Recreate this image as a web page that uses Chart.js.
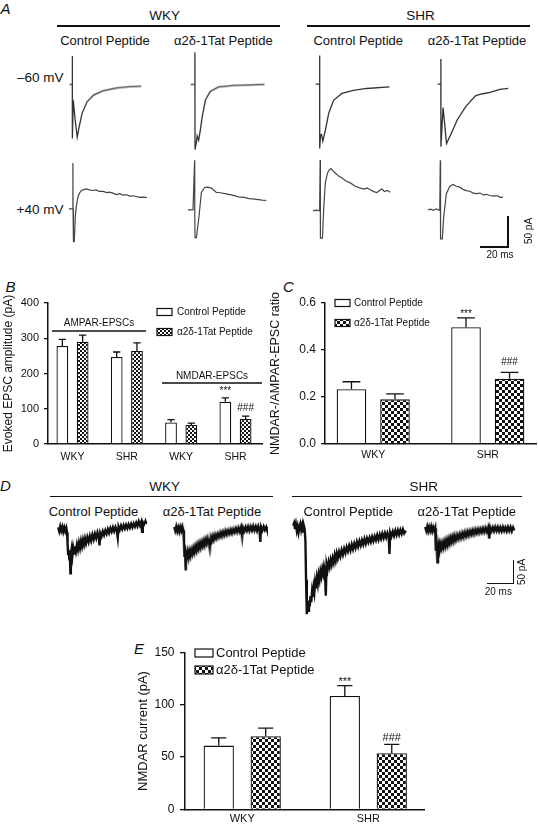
<!DOCTYPE html>
<html>
<head>
<meta charset="utf-8">
<title>NMDAR EPSC figure</title>
<script src="https://cdn.jsdelivr.net/npm/chart.js@4.4.1/dist/chart.umd.min.js"></script>
<style>
  body { margin: 0; background: #fff; }
  #fig { position: relative; width: 538px; height: 826px; overflow: hidden;
         font-family: "Liberation Sans", Arial, Helvetica, sans-serif; color: #111; }
  .t { position: absolute; white-space: nowrap; line-height: 1; }
  .box { position: absolute; }
  .ln { position: absolute; background: #111; }
</style>
</head>
<body>
<div id="fig"></div>
<script>
const FONT = '"Liberation Sans", Arial, Helvetica, sans-serif';

// ---------- data ----------
const strains = ['WKY', 'SHR'];
const peptides = ['Control Peptide', 'α2δ-1Tat Peptide'];

// B: evoked EPSC amplitude (pA) – AMPAR WKY, AMPAR SHR, NMDAR WKY, NMDAR SHR
const bCats = ['WKY', 'SHR', 'WKY', 'SHR'];
const bCtrl = [278, 247, 61, 120];
const bCtrlErr = [19, 14, 8, 11];
const bTat = [290, 264, 54, 71];
const bTatErr = [19, 23, 5, 8];
const bCtrlSig = ['', '', '', '***'];
const bTatSig = ['', '', '', '###'];
const bTicks = [0, 100, 200, 300, 400];

// C: NMDAR/AMPAR ratio
const cCtrl = [0.233, 0.497];
const cCtrlErr = [0.032, 0.040];
const cTat = [0.19, 0.278];
const cTatErr = [0.023, 0.027];
const cCtrlSig = ['', '***'];
const cTatSig = ['', '###'];
const cTicks = [0, 0.2, 0.4, 0.6];

// E: NMDAR current (pA)
const eCtrl = [61, 108.5];
const eCtrlErr = [7.5, 10];
const eTat = [70, 53.8];
const eTatErr = [7.7, 8.3];
const eCtrlSig = ['', '***'];
const eTatSig = ['', '###'];
const eTicks = [0, 50, 100, 150];

// A: evoked EPSC traces [ms, pA]
const aWkyCtrlNeg = [[0,0],[2,0],[2,46],[2.1,-87],[2.7,-25],[4.2,-58],[5.7,-85],[7,-70],[9.4,-46],[13.1,-28],[18,-17],[25.2,-10],[35.3,-5.5],[45,-3.5],[53.9,-2.7]];
const aWkyTatNeg = [[0,0],[3.2,0],[3.2,52],[3.3,-105],[4.4,-92],[4.9,-83],[6,-90],[7.2,-75],[8.7,-52],[11.1,-25],[14.8,-11],[21,-4],[32.1,-1.5],[55.6,0]];
const aShrCtrlNeg = [[0,0],[3,0],[3,47],[3.1,-105],[3.7,-83],[4.4,-82],[5.4,-93],[7.4,-74],[9.9,-47],[13.6,-26],[19.8,-15],[28.4,-10],[38.3,-7],[55.6,-4.4]];
const aShrTatNeg = [[0,0],[2.4,0],[2.4,41],[2.5,-102],[4.1,-38],[6.7,-97],[9.9,-82],[14.8,-58],[21,-37],[28.4,-19],[33,-16],[39.5,-13.4],[46.9,-8.5],[53.1,-7]];
const aWkyCtrlPos = [[0,0],[2.5,0],[2.9,74],[3,0],[3.3,-53],[3.9,-53],[4.7,-12],[5.5,5],[6.7,20],[8,26],[9.2,29.5],[11,31],[12.9,32],[15,30.5],[17.8,29.5],[20,30.5],[22.5,28],[25.2,28],[28,26],[30,27],[32.6,25.3],[35,23],[37.5,24.5],[40,22],[42.5,22.6],[45,20.5],[47.5,21],[49.9,19.8],[52,18.5],[55,18.8],[57.8,18.2]];
const aWkyTatPos = [[0,0],[3.7,0],[4.9,80],[5,0],[5.2,-45],[6.2,-45],[8.1,-12],[9.9,28],[12.3,36],[14.5,36.5],[17.3,35],[19,32],[21,28],[24,27.5],[28.4,25.6],[32,24],[35,22.5],[38.3,20.3],[42,20],[45,18],[48.1,17.6],[52,16.5],[55,15.5],[58,15]];
const aShrCtrlPos = [[0,0],[2.5,1],[4.9,0],[5.3,82],[5.4,0],[5.6,-44],[7,-44],[7.9,2],[9.1,45],[10.8,61],[12,66],[13.3,68],[15,64],[16.5,61],[19,56],[21.5,53],[24.5,48],[27.6,45],[31,40],[35,36.6],[38,35],[40,37],[42.4,34],[45,31],[47.4,29.5],[49.5,33],[51.1,35],[53,31],[55,33],[57.3,30]];
const aShrTatPos = [[0,0],[2,1],[4,-1],[6,1.5],[8.7,-1],[9.1,80],[9.2,0],[9.4,-47],[10.6,-47],[11.6,-12],[13.6,26],[16.1,37.6],[18.5,40.8],[21,38],[23.5,36.5],[26,33],[28.4,31],[31,30],[33.5,27],[35.9,26],[38.5,27],[41,24],[43.5,25],[45.7,23],[48.5,22],[51,23],[53.5,20],[55.6,20.3]];

// D: NMDAR currents [ms, pA]
const dWkyCtrl = [[0,4],[0.8,-5],[1.6,6],[2.4,-4],[3.2,5],[4,-6],[4.8,4],[5.6,-5],[6.4,3],[7,-8],[7.4,-35],[7.8,-58],[8.3,-48],[8.8,-70],[9.2,-52],[9.6,-103],[10,-58],[10.6,-46],[11.2,-62],[11.8,-44],[12.5,-57],[13.2,-40],[14,-52],[14.8,-36],[15.6,-48],[16.4,-32],[17.2,-44],[18,-28],[18.8,-40],[19.6,-25],[20.4,-36],[21.2,-22],[22,-33],[23,-19],[24,-30],[25,-16],[26,-27],[27,-13],[28,-24],[29,-11],[30,-21],[31,-8],[32,-19],[32.6,-38],[33.2,-9],[34.2,-17],[35.2,-5],[36.2,-14],[37.2,-3],[38.2,-11],[39.2,0],[40.2,-9],[41.2,2],[42.2,-6],[43.2,4],[44.2,-5],[45.2,5],[46.2,-3],[47,-20],[47.6,6],[48.6,-2],[49.6,8],[50.6,0],[51.6,9],[52.6,1],[53.6,10],[54.6,2],[55.6,11],[56.6,3],[57.6,12],[58.6,4],[59.6,13],[60.6,6],[61.6,15],[62.6,7],[63.6,18],[64.6,9],[65.6,17],[66.2,-6],[66.8,16],[67.8,11],[68.8,18],[69.2,12]];
const dWkyTat = [[0,5],[0.8,-4],[1.6,6],[2.4,-5],[3.2,4],[4,-6],[4.8,5],[5.6,-4],[6.4,6],[7.2,-3],[7.6,-30],[8,-62],[8.5,-54],[9,-96],[9.4,-60],[10,-70],[10.6,-55],[11.2,-66],[11.9,-52],[12.6,-62],[13.4,-48],[14.2,-58],[15,-44],[15.8,-54],[16.6,-40],[17.4,-50],[18.2,-36],[19,-46],[19.8,-33],[20.6,-43],[21.4,-30],[22.2,-39],[23,-27],[23.8,-37],[24.6,-24],[25.4,-33],[26.2,-21],[27,-30],[27.8,-45],[28.6,-19],[29.4,-27],[30.2,-16],[31,-25],[32,-13],[33,-22],[34,-11],[35,-19],[36,-8],[37,-17],[38,-6],[39,-15],[40,-4],[41,-13],[42,-3],[43,-11],[44,-1],[45,-10],[46,0],[47,-8],[48,2],[49,-7],[50,3],[51,-6],[52,4],[53,-18],[53.6,3],[54.6,-5],[55.6,5],[56.6,-4],[57.6,6],[58.6,-4],[59.6,6],[60.6,-3],[61.6,7],[62.6,-3],[63.6,6],[64.6,-4],[65.6,7],[66.6,-3],[67.2,-30],[67.8,5],[68.8,-3],[69.8,6],[70.8,-2],[71.8,5],[72.3,0]];
const dShrCtrl = [[0,6],[0.7,12],[1.4,-2],[2.1,9],[2.8,-6],[3.5,4],[4.2,-10],[4.9,3],[5.6,10],[6.3,-4],[7,6],[7.7,-8],[8.4,5],[9,-2],[9.6,-30],[10.1,-120],[10.7,-200],[11.2,-170],[11.8,-192],[12.4,-168],[13,-182],[13.6,-158],[14.2,-172],[14.8,-148],[15.4,-160],[16,-138],[16.6,-150],[17.2,-126],[17.9,-140],[18.6,-116],[19.3,-130],[20,-108],[20.7,-120],[21.4,-101],[22.1,-112],[22.8,-95],[23.5,-106],[24.2,-89],[24.9,-100],[25.6,-157],[26.2,-84],[27,-96],[27.8,-79],[28.6,-90],[29.4,-74],[30.2,-85],[31,-70],[31.8,-80],[32.6,-63],[33.4,-75],[34.2,-59],[35,-70],[36,-55],[37,-66],[38,-51],[39,-62],[40,-48],[41,-58],[42,-44],[43,-54],[44,-41],[45,-52],[46,-38],[47,-49],[48,-36],[49,-46],[50,-32],[51,-43],[52,-30],[53,-40],[54,-28],[55,-38],[56,-25],[57,-36],[58,-24],[59,-33],[60,-22],[61,-32],[62,-20],[63,-30],[64,-19],[65,-28],[66,-16],[67,-27],[68,-15],[69,-25],[70,-13],[71,-23],[72,-12],[73,-22],[74,-11],[75,-20],[75.6,-60],[76.2,-10],[77.2,-19],[78.2,-8],[79.2,-18],[80.2,-6],[81.2,-16],[82.2,-5],[83.2,-15],[84.2,-4],[85.2,-13],[86.2,-3],[87.2,-12],[88.4,-6]];
const dShrTat = [[0,5],[0.8,-4],[1.6,6],[2.4,-5],[3.2,5],[4,-4],[4.8,6],[5.6,-5],[6.4,4],[7.2,-4],[7.8,2],[8.1,-30],[8.5,-50],[9,-38],[9.5,-77],[10,-46],[10.6,-36],[11.2,-48],[11.8,-34],[12.6,-45],[13.4,-32],[14.2,-43],[15,-29],[15.8,-40],[16.6,-26],[17.4,-37],[18.2,-23],[19,-33],[19.8,-20],[20.6,-30],[21.4,-18],[22.2,-28],[23,-15],[24,-26],[25,-13],[26,-23],[27,-11],[28,-21],[29,-9],[30,-19],[31,-7],[32,-17],[33,-5],[34,-15],[35,-4],[36,-13],[37,-2],[38,-12],[39,-1],[40,-10],[41,0],[42,-9],[43,1],[44,-8],[45,2],[46,-7],[47,3],[48,-6],[49,3],[50,-22],[50.6,4],[51.6,-5],[52.6,4],[53.6,-5],[54.6,5],[55.6,-4],[56.6,5],[57.6,-5],[58.6,4],[59.6,-5],[60.6,5],[61.6,-4],[62.6,4],[63.6,-5],[64.6,5],[65.6,-4],[66.6,5],[67.6,-5],[68.6,4],[69.6,-3]];

// ---------- helpers ----------
Chart.defaults.font.family = FONT;
Chart.defaults.color = '#111';
const fig = document.getElementById('fig');

function txt(s, x, y, size, anchor, extra) {
  const d = document.createElement('div');
  d.className = 't';
  d.textContent = s;
  d.style.fontSize = size + 'px';
  d.style.left = x + 'px';
  d.style.top = y + 'px';
  const tx = anchor === 'l' ? '0' : anchor === 'r' ? '-100%' : '-50%';
  d.style.transform = 'translate(' + tx + ',-50%)' + (extra || '');
  fig.appendChild(d);
  return d;
}
function line(x, y, w, h) {
  const d = document.createElement('div');
  d.className = 'ln';
  d.style.left = x + 'px'; d.style.top = y + 'px';
  d.style.width = w + 'px'; d.style.height = h + 'px';
  fig.appendChild(d);
}
function box(left, top, w, h) {
  const d = document.createElement('div');
  d.className = 'box';
  d.style.left = left + 'px'; d.style.top = top + 'px';
  d.style.width = w + 'px'; d.style.height = h + 'px';
  const cv = document.createElement('canvas');
  d.appendChild(cv);
  fig.appendChild(d);
  return cv;
}
function checker(cell) {
  const c = document.createElement('canvas');
  c.width = c.height = cell * 2;
  const g = c.getContext('2d');
  g.fillStyle = '#fff'; g.fillRect(0, 0, cell * 2, cell * 2);
  g.fillStyle = '#111'; g.fillRect(0, 0, cell, cell); g.fillRect(cell, cell, cell, cell);
  return g.createPattern(c, 'repeat');
}

// one trace = one small chart, ms on x and pA on y
function trace(pts, left, base, xmax, ymin, ymax, kx, ky, lw, col) {
  const cv = box(left, base - ymax * ky, xmax * kx, (ymax - ymin) * ky);
  new Chart(cv, {
    type: 'scatter',
    data: { datasets: [{ data: pts.map(p => ({ x: p[0], y: p[1] })), showLine: true,
      borderColor: col, borderWidth: lw, pointRadius: 0, tension: 0, clip: false }] },
    options: {
      responsive: true, maintainAspectRatio: false, animation: false, events: [],
      layout: { padding: 0 },
      plugins: { legend: { display: false }, tooltip: { enabled: false } },
      scales: {
        x: { type: 'linear', display: false, min: 0, max: xmax },
        y: { type: 'linear', display: false, min: ymin, max: ymax }
      }
    }
  });
}

// error bars, significance marks, legend, group brackets
const deco = {
  id: 'deco',
  afterDatasetsDraw(chart, args, o) {
    const { ctx, scales: { x, y } } = chart;
    ctx.save();
    ctx.strokeStyle = '#111';
    ctx.lineWidth = 1.3;
    chart.data.datasets.forEach((ds, di) => {
      chart.getDatasetMeta(di).data.forEach((bar, i) => {
        const top = y.getPixelForValue(ds.data[i].y + ds.err[i]);
        const half = bar.width * o.cap / 2;
        ctx.beginPath();
        ctx.moveTo(bar.x, bar.y); ctx.lineTo(bar.x, top);
        ctx.moveTo(bar.x - half, top); ctx.lineTo(bar.x + half, top);
        ctx.stroke();
        if (ds.sig[i]) {
          ctx.fillStyle = '#111';
          ctx.font = o.sigSize + 'px ' + FONT;
          ctx.textAlign = 'center'; ctx.textBaseline = 'alphabetic';
          ctx.fillText(ds.sig[i], bar.x, top - o.sigGap[di]);
        }
      });
    });
    const L = o.legend;
    chart.data.datasets.forEach((ds, di) => {
      const cy = L.y + di * L.dy;
      ctx.fillStyle = ds.backgroundColor;
      ctx.fillRect(L.x, cy - L.h / 2, L.w, L.h);
      ctx.lineWidth = 1.2;
      ctx.strokeRect(L.x, cy - L.h / 2, L.w, L.h);
      ctx.fillStyle = '#111';
      ctx.font = L.size + 'px ' + FONT;
      ctx.textAlign = 'left'; ctx.textBaseline = 'middle';
      ctx.fillText(ds.label, L.tx, cy + 0.5);
    });
    (o.groups || []).forEach(g => {
      const py = y.getPixelForValue(g.at);
      const x1 = x.getPixelForValue(g.from), x2 = x.getPixelForValue(g.to);
      ctx.lineWidth = 1.5;
      ctx.beginPath(); ctx.moveTo(x1, py); ctx.lineTo(x2, py); ctx.stroke();
      ctx.fillStyle = '#111';
      ctx.font = g.size + 'px ' + FONT;
      ctx.textAlign = 'center'; ctx.textBaseline = 'alphabetic';
      ctx.fillText(g.text, (x1 + x2) / 2, py - 4.5);
    });
    ctx.restore();
  }
};

function barPanel(p) {
  const cv = box(p.left, p.top, p.w, p.h);
  const pat = checker(p.cell);
  new Chart(cv, {
    type: 'bar',
    data: {
      datasets: [
        { label: peptides[0], data: p.ctrl.map((v, i) => ({ x: i, y: v })), err: p.ctrlErr, sig: p.ctrlSig,
          backgroundColor: '#fff', borderColor: '#111', borderWidth: 1.3 },
        { label: peptides[1], data: p.tat.map((v, i) => ({ x: i, y: v })), err: p.tatErr, sig: p.tatSig,
          backgroundColor: pat, borderColor: '#111', borderWidth: 1.3 }
      ]
    },
    plugins: [deco],
    options: {
      responsive: true, maintainAspectRatio: false, animation: false, events: [],
      categoryPercentage: p.catPct, barPercentage: p.barPct,
      layout: { padding: { top: p.padTop, right: p.padRight, left: 0, bottom: 0 } },
      plugins: {
        legend: { display: false }, tooltip: { enabled: false },
        deco: { cap: p.cap, sigSize: p.sigSize, sigGap: p.sigGap, legend: p.legend, groups: p.groups }
      },
      scales: {
        x: {
          type: 'linear', offset: false, min: p.xmin, max: p.xmax,
          afterBuildTicks: s => { s.ticks = p.cats.map((c, i) => ({ value: i })); },
          afterFit: s => { s.height = p.xh; },
          ticks: { autoSkip: false, maxRotation: 0, padding: p.xPad, font: { size: p.xSize }, color: '#111',
                   callback: v => p.cats[v] },
          grid: { display: false, drawTicks: false },
          border: { display: true, color: '#111', width: 1.5 }
        },
        y: {
          min: p.ticks[0], max: p.ticks[p.ticks.length - 1],
          afterBuildTicks: s => { s.ticks = p.ticks.map(v => ({ value: v })); },
          afterFit: s => { s.width = p.yw; },
          ticks: { padding: p.yPad, font: { size: p.ySize }, color: '#111', callback: p.fmt },
          grid: { display: true, drawOnChartArea: false, drawTicks: true, tickLength: p.tickLen, color: '#111', lineWidth: 1.3 },
          border: { display: true, color: '#111', width: 1.5 },
          title: { display: true, text: p.title, font: { size: p.titleSize }, color: '#111', padding: { top: p.titlePad, bottom: 0 } }
        }
      }
    }
  });
}

// ---------- panel A ----------
txt('A', 5.5, 8, 15, 'c').style.fontStyle = 'italic';
txt(strains[0], 164.7, 16, 13.5, 'c');
txt(strains[1], 420.4, 16, 13.5, 'c');
line(56.6, 25, 223, 1.5);
line(307, 25, 223, 1.5);
txt(peptides[0], 105, 39.5, 13, 'c');
txt(peptides[1], 223.4, 39.5, 13, 'c');
txt(peptides[0], 358.2, 39.5, 13, 'c');
txt(peptides[1], 477, 39.5, 13, 'c');
txt('–60 mV', 63.5, 78, 13.5, 'r');
txt('+40 mV', 63.5, 210, 13.5, 'r');

const AK = [1.35, 0.62];
trace(aWkyCtrlNeg, 69, 84.3, 60, -115, 58, AK[0], AK[1], 1.3, '#333');
trace(aWkyTatNeg, 190, 84.3, 60, -115, 58, AK[0], AK[1], 1.3, '#333');
trace(aShrCtrlNeg, 315, 84, 60, -115, 58, AK[0], AK[1], 1.3, '#333');
trace(aShrTatNeg, 436.7, 84, 60, -115, 58, AK[0], AK[1], 1.3, '#333');
trace(aWkyCtrlPos, 69.3, 209, 60, -60, 90, AK[0], AK[1], 1.2, '#444');
trace(aWkyTatPos, 188.3, 209.3, 60, -60, 90, AK[0], AK[1], 1.2, '#444');
trace(aShrCtrlPos, 312.7, 211, 60, -60, 90, AK[0], AK[1], 1.2, '#444');
trace(aShrTatPos, 428.3, 209.3, 60, -60, 90, AK[0], AK[1], 1.2, '#444');

// scale bar A
line(507.3, 216, 1.5, 31.5);
line(480.4, 246, 28.4, 1.5);
txt('50 pA', 528.5, 231, 10, 'c', ' rotate(-90deg)');
txt('20 ms', 500, 255, 10, 'c');

// ---------- panel B ----------
txt('B', 10.5, 286, 15, 'c').style.fontStyle = 'italic';
barPanel({
  left: 0, top: 282, w: 270, h: 190, padTop: 21, padRight: 8, yw: 48, xh: 28,
  cats: bCats, ctrl: bCtrl, ctrlErr: bCtrlErr, tat: bTat, tatErr: bTatErr, ctrlSig: bCtrlSig, tatSig: bTatSig,
  xmin: -0.451, xmax: 3.488, catPct: 0.747, barPct: 0.58, cell: 2,
  ticks: bTicks, fmt: v => v, ySize: 11, yPad: 5, tickLen: 4, xSize: 10.5, xPad: 6.5,
  title: 'Evoked EPSC amplitude (pA)', titleSize: 12, titlePad: 1,
  cap: 0.62, sigSize: 10, sigGap: [4, 5],
  legend: { x: 157, y: 30, dy: 20, w: 15, h: 7, tx: 177, size: 10 },
  groups: [
    { text: 'AMPAR-EPSCs', from: -0.377, to: 1.353, at: 320.6, size: 10 },
    { text: 'NMDAR-EPSCs', from: 1.647, to: 3.488, at: 173, size: 10 }
  ]
});

// ---------- panel C ----------
txt('C', 288.5, 286, 15, 'c').style.fontStyle = 'italic';
barPanel({
  left: 268, top: 282, w: 270, h: 190, padTop: 21, padRight: 2, yw: 57, xh: 28,
  cats: strains, ctrl: cCtrl, ctrlErr: cCtrlErr, tat: cTat, tatErr: cTatErr, ctrlSig: cCtrlSig, tatSig: cTatSig,
  xmin: -0.421, xmax: 1.421, catPct: 0.76, barPct: 0.68, cell: 3,
  ticks: cTicks, fmt: v => v.toFixed(1), ySize: 12, yPad: 5, tickLen: 4, xSize: 10.5, xPad: 4.7,
  title: 'NMDAR-/AMPAR-EPSC ratio', titleSize: 12.5, titlePad: 0,
  cap: 0.6, sigSize: 10, sigGap: [1, 7],
  legend: { x: 67, y: 21, dy: 20, w: 15, h: 7, tx: 86, size: 10 }
});

// ---------- panel D ----------
txt('D', 5.5, 485, 15, 'c').style.fontStyle = 'italic';
txt(strains[0], 164.7, 487.3, 13.5, 'c');
txt(strains[1], 423.8, 487.3, 13.5, 'c');
line(49.8, 495.5, 223.7, 1.5);
line(292.4, 495.5, 230, 1.5);
txt(peptides[0], 93.5, 511, 13, 'c');
txt(peptides[1], 212, 511, 13, 'c');
txt(peptides[0], 348.3, 511, 13, 'c');
txt(peptides[1], 466.8, 511, 13, 'c');

const DK = [1.3, 0.44];
trace(dWkyCtrl, 56.7, 527.7, 72, -215, 30, DK[0], DK[1], 2.4, '#111');
trace(dWkyTat, 172.7, 527.7, 73, -215, 30, DK[0], DK[1], 2.4, '#111');
trace(dShrCtrl, 291.7, 526.7, 90, -215, 30, DK[0], DK[1], 2.4, '#111');
trace(dShrTat, 424.3, 527.7, 72, -215, 30, DK[0], DK[1], 2.4, '#111');

// scale bar D
line(512.6, 560, 1.5, 24);
line(486.7, 582.6, 27.4, 1.5);
txt('50 pA', 521.7, 571.7, 10, 'c', ' rotate(-90deg)');
txt('20 ms', 498.3, 592, 10, 'c');

// ---------- panel E ----------
txt('E', 139, 648, 15, 'c').style.fontStyle = 'italic';
barPanel({
  left: 130, top: 640, w: 298, h: 186, padTop: 11.5, padRight: 4, yw: 55, xh: 16.7,
  cats: strains, ctrl: eCtrl, ctrlErr: eCtrlErr, tat: eTat, tatErr: eTatErr, ctrlSig: eCtrlSig, tatSig: eTatSig,
  xmin: -0.454, xmax: 1.442, catPct: 0.745, barPct: 0.645, cell: 3,
  ticks: eTicks, fmt: v => v, ySize: 12, yPad: 5.5, tickLen: 5, xSize: 11, xPad: 3.4,
  title: 'NMDAR current (pA)', titleSize: 13, titlePad: 6,
  cap: 0.5, sigSize: 11, sigGap: [0.5, 3.5],
  legend: { x: 65, y: 13, dy: 17, w: 18, h: 8, tx: 86, size: 13 }
});
</script>
</body>
</html>
